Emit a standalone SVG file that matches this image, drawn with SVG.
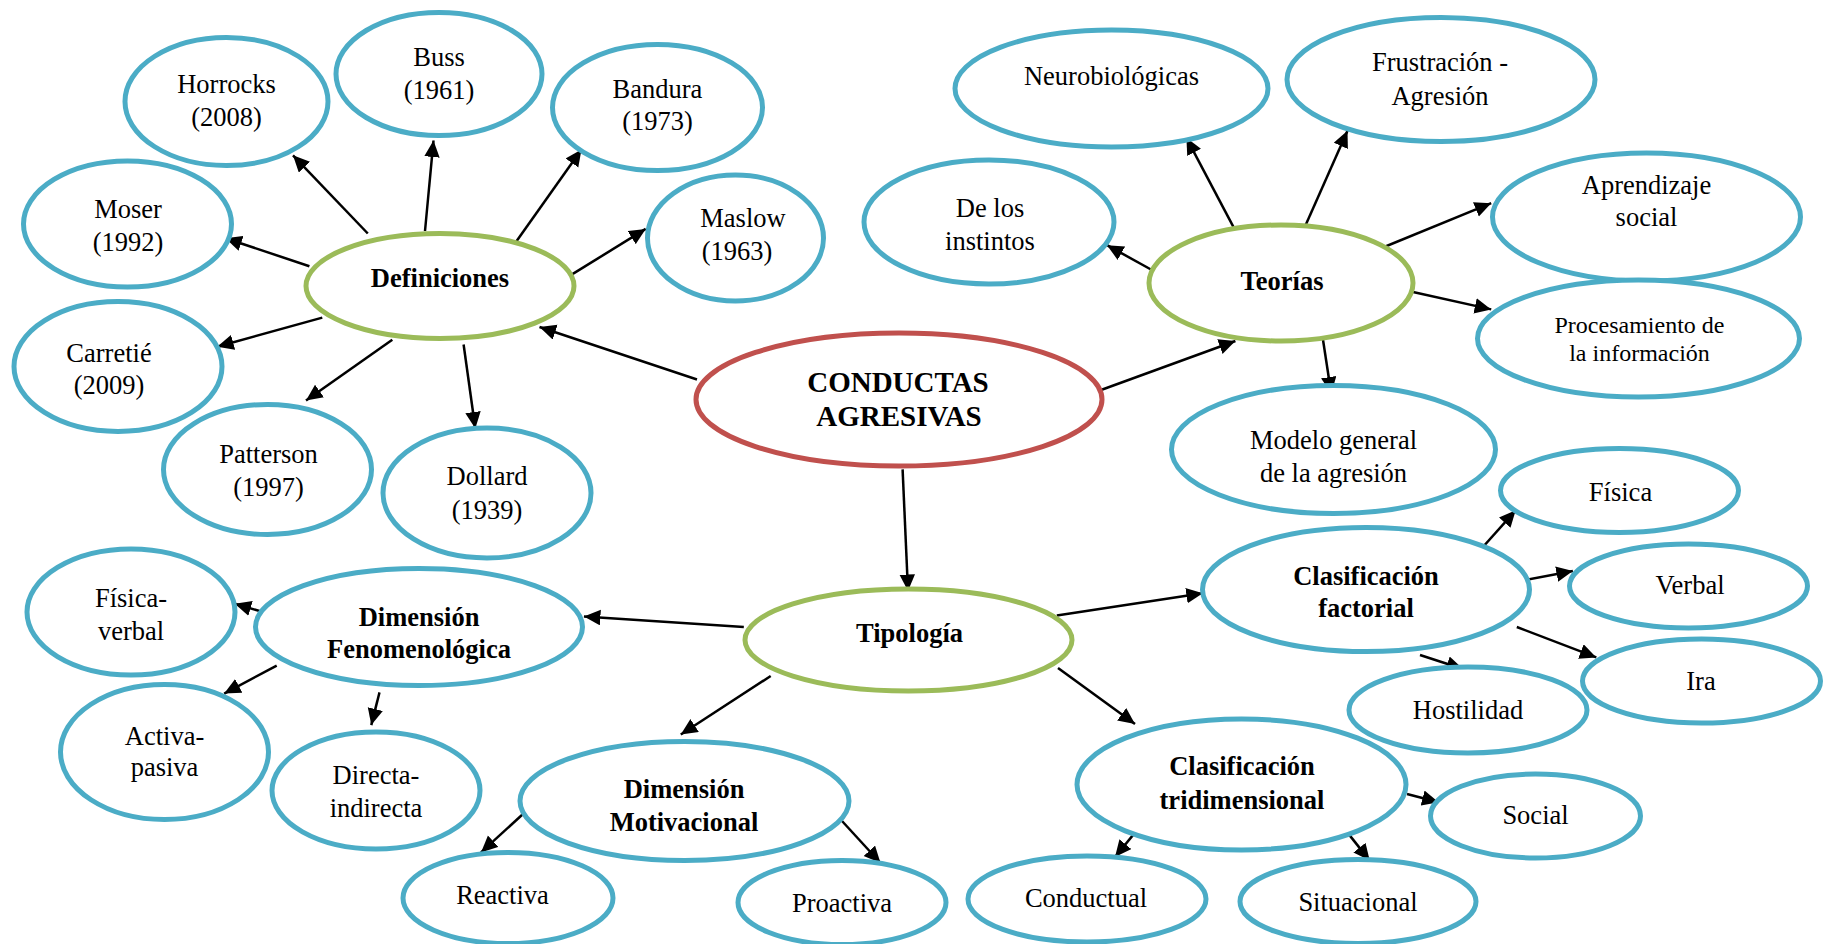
<svg xmlns="http://www.w3.org/2000/svg" width="1831" height="944" viewBox="0 0 1831 944" font-family="'Liberation Serif', 'DejaVu Serif', serif">
  <style>
    .blue{fill:#fff;stroke:#4BACC6;stroke-width:5}
    .green{fill:#fff;stroke:#9BBB59;stroke-width:5}
    .red{fill:#fff;stroke:#C0504D;stroke-width:5}
    text{font-family:'Liberation Serif','DejaVu Serif',serif;font-size:26.5px;fill:#000;text-anchor:middle}
    .b{font-weight:bold}
    .big{font-size:29px}
    .sm{font-size:24px}
    .edge{stroke:#000;stroke-width:2.5;fill:none;marker-end:url(#arrow)}
  </style>
  <defs>
    <marker id="arrow" markerUnits="userSpaceOnUse" markerWidth="18" markerHeight="16" refX="16.5" refY="7.75" orient="auto">
      <path d="M0,0 L16.5,7.75 L0,15.5 z" fill="#000"/>
    </marker>
  </defs>
  <rect width="1831" height="944" fill="#fff"/>

  <!-- connectors -->
  <g id="connectors">
    <line class="edge" x1="697" y1="379.5" x2="539.5" y2="327"/>
    <line class="edge" x1="1101" y1="390" x2="1235.4" y2="341"/>
    <line class="edge" x1="902.6" y1="469.4" x2="908" y2="591"/>

    <line class="edge" x1="367.8" y1="233.5" x2="293" y2="155.3"/>
    <line class="edge" x1="425" y1="231" x2="433.5" y2="140.5"/>
    <line class="edge" x1="513.8" y1="245" x2="581.5" y2="149.5"/>
    <line class="edge" x1="572" y1="274.4" x2="645.7" y2="228.9"/>
    <line class="edge" x1="309.4" y1="266.2" x2="225.4" y2="238.2"/>
    <line class="edge" x1="322.3" y1="317.6" x2="217.2" y2="346.8"/>
    <line class="edge" x1="392.3" y1="339.8" x2="306" y2="400.5"/>
    <line class="edge" x1="463.6" y1="344.5" x2="475.3" y2="428.5"/>

    <line class="edge" x1="1240" y1="239.4" x2="1186.4" y2="137.8"/>
    <line class="edge" x1="1300.8" y1="235.9" x2="1347.5" y2="130.8"/>
    <line class="edge" x1="1153.7" y1="271" x2="1107" y2="245.2"/>
    <line class="edge" x1="1374.4" y1="251" x2="1491.2" y2="203.2"/>
    <line class="edge" x1="1413" y1="292" x2="1491.2" y2="309.4"/>
    <line class="edge" x1="1323" y1="339.8" x2="1331.2" y2="393.5"/>

    <line class="edge" x1="743.8" y1="627" x2="583.9" y2="616.5"/>
    <line class="edge" x1="770.7" y1="676" x2="680.8" y2="734.5"/>
    <line class="edge" x1="1056.8" y1="615.4" x2="1202.8" y2="593.2"/>
    <line class="edge" x1="1058" y1="668" x2="1135" y2="724"/>

    <line class="edge" x1="1477.1" y1="553.5" x2="1515.7" y2="510.3"/>
    <line class="edge" x1="1523.8" y1="580.3" x2="1572.9" y2="571"/>
    <line class="edge" x1="1516.8" y1="627" x2="1596.3" y2="657.4"/>
    <line class="edge" x1="1420" y1="655" x2="1463" y2="669"/>

    <line class="edge" x1="1407" y1="794" x2="1438.6" y2="802.2"/>
    <line class="edge" x1="1135" y1="832.6" x2="1115" y2="857"/>
    <line class="edge" x1="1347.5" y1="832.6" x2="1369.7" y2="860.6"/>

    <line class="edge" x1="262.7" y1="611.9" x2="234.7" y2="603.7"/>
    <line class="edge" x1="276.7" y1="665.6" x2="224.2" y2="693.6"/>
    <line class="edge" x1="379.5" y1="692.4" x2="371.3" y2="725.1"/>

    <line class="edge" x1="523" y1="814" x2="481" y2="852.4"/>
    <line class="edge" x1="842" y1="821" x2="880.5" y2="863"/>
  </g>

  <!-- root -->
  <g id="n-conductas">
    <ellipse class="red" cx="899" cy="399.5" rx="203" ry="66.5"/>
    <text class="b big" x="898" y="392">CONDUCTAS</text>
    <text class="b big" x="899" y="426">AGRESIVAS</text>
  </g>

  <!-- Definiciones branch -->
  <g id="n-definiciones">
    <ellipse class="green" cx="440" cy="286" rx="134" ry="52.5"/>
    <text class="b" x="440" y="287">Definiciones</text>
  </g>
  <g id="n-horrocks">
    <ellipse class="blue" cx="226.5" cy="101.5" rx="101.5" ry="64"/>
    <text x="226.5" y="93">Horrocks</text>
    <text x="226.5" y="126">(2008)</text>
  </g>
  <g id="n-buss">
    <ellipse class="blue" cx="439" cy="74" rx="103" ry="61.5"/>
    <text x="439" y="66">Buss</text>
    <text x="439" y="99">(1961)</text>
  </g>
  <g id="n-bandura">
    <ellipse class="blue" cx="657.5" cy="107.5" rx="105" ry="63"/>
    <text x="657.5" y="97.7">Bandura</text>
    <text x="657.5" y="130.4">(1973)</text>
  </g>
  <g id="n-maslow">
    <ellipse class="blue" cx="735.5" cy="238" rx="88" ry="63"/>
    <text x="743" y="227.4">Maslow</text>
    <text x="737" y="260">(1963)</text>
  </g>
  <g id="n-moser">
    <ellipse class="blue" cx="127.5" cy="224" rx="104" ry="63"/>
    <text x="128" y="218">Moser</text>
    <text x="128" y="250.7">(1992)</text>
  </g>
  <g id="n-carretie">
    <ellipse class="blue" cx="118" cy="366.5" rx="104" ry="65"/>
    <text x="109" y="361.6">Carretié</text>
    <text x="109" y="394.3">(2009)</text>
  </g>
  <g id="n-patterson">
    <ellipse class="blue" cx="267.5" cy="469.5" rx="104" ry="65"/>
    <text x="268.5" y="463">Patterson</text>
    <text x="268.5" y="496">(1997)</text>
  </g>
  <g id="n-dollard">
    <ellipse class="blue" cx="487" cy="493" rx="104" ry="65"/>
    <text x="487" y="485.4">Dollard</text>
    <text x="487" y="519.3">(1939)</text>
  </g>

  <!-- Teorías branch -->
  <g id="n-teorias">
    <ellipse class="green" cx="1281" cy="283" rx="132" ry="58"/>
    <text class="b" x="1282" y="290.4">Teorías</text>
  </g>
  <g id="n-neuro">
    <ellipse class="blue" cx="1111.5" cy="88.5" rx="156.5" ry="58.5"/>
    <text x="1111.5" y="84.5">Neurobiológicas</text>
  </g>
  <g id="n-frustracion">
    <ellipse class="blue" cx="1441" cy="79.5" rx="154" ry="62"/>
    <text x="1440" y="71">Frustración -</text>
    <text x="1440" y="104.8">Agresión</text>
  </g>
  <g id="n-instintos">
    <ellipse class="blue" cx="989" cy="222" rx="125" ry="62"/>
    <text x="990" y="216.8">De los</text>
    <text x="990" y="249.5">instintos</text>
  </g>
  <g id="n-aprendizaje">
    <ellipse class="blue" cx="1646.5" cy="217" rx="154" ry="64"/>
    <text x="1646.5" y="193.5">Aprendizaje</text>
    <text x="1646.5" y="226">social</text>
  </g>
  <g id="n-procesamiento">
    <ellipse class="blue" cx="1638.5" cy="338.5" rx="161" ry="58.5"/>
    <text class="sm" x="1639.5" y="332.6">Procesamiento de</text>
    <text class="sm" x="1639.5" y="360.6">la información</text>
  </g>
  <g id="n-modelo">
    <ellipse class="blue" cx="1333.5" cy="449.5" rx="162" ry="64"/>
    <text x="1333.5" y="449">Modelo general</text>
    <text x="1333.5" y="482">de la agresión</text>
  </g>

  <!-- Tipología branch -->
  <g id="n-tipologia">
    <ellipse class="green" cx="908.5" cy="640" rx="163.5" ry="51"/>
    <text class="b" x="909.5" y="642">Tipología</text>
  </g>
  <g id="n-fenomenologica">
    <ellipse class="blue" cx="419" cy="627" rx="163.5" ry="58.5"/>
    <text class="b" x="419" y="625.5">Dimensión</text>
    <text class="b" x="419" y="658.2">Fenomenológica</text>
  </g>
  <g id="n-fisica-verbal">
    <ellipse class="blue" cx="131" cy="612" rx="104" ry="63"/>
    <text x="131" y="606.9">Física-</text>
    <text x="131" y="639.6">verbal</text>
  </g>
  <g id="n-activa-pasiva">
    <ellipse class="blue" cx="164.5" cy="752" rx="104" ry="67.5"/>
    <text x="164.5" y="744.6">Activa-</text>
    <text x="164.5" y="776.2">pasiva</text>
  </g>
  <g id="n-directa-indirecta">
    <ellipse class="blue" cx="376" cy="790.5" rx="104" ry="58.5"/>
    <text x="376" y="784.4">Directa-</text>
    <text x="376" y="817">indirecta</text>
  </g>
  <g id="n-motivacional">
    <ellipse class="blue" cx="684.5" cy="801" rx="164.5" ry="59.5"/>
    <text class="b" x="684" y="798.4">Dimensión</text>
    <text class="b" x="684" y="831">Motivacional</text>
  </g>
  <g id="n-reactiva">
    <ellipse class="blue" cx="508" cy="898" rx="105" ry="45.5"/>
    <text x="502.5" y="903.5">Reactiva</text>
  </g>
  <g id="n-proactiva">
    <ellipse class="blue" cx="842" cy="902.5" rx="104" ry="42"/>
    <text x="842" y="911.6">Proactiva</text>
  </g>
  <g id="n-factorial">
    <ellipse class="blue" cx="1366" cy="589.5" rx="163.5" ry="62"/>
    <text class="b" x="1366" y="584.7">Clasificación</text>
    <text class="b" x="1366" y="617.4">factorial</text>
  </g>
  <g id="n-fisica">
    <ellipse class="blue" cx="1619.5" cy="490.5" rx="119" ry="42"/>
    <text x="1620.5" y="500.6">Física</text>
  </g>
  <g id="n-verbal">
    <ellipse class="blue" cx="1688.5" cy="586" rx="119" ry="42"/>
    <text x="1690" y="594">Verbal</text>
  </g>
  <g id="n-ira">
    <ellipse class="blue" cx="1701.5" cy="681" rx="119" ry="42"/>
    <text x="1701" y="689.8">Ira</text>
  </g>
  <g id="n-hostilidad">
    <ellipse class="blue" cx="1468" cy="710" rx="119" ry="43"/>
    <text x="1468" y="719">Hostilidad</text>
  </g>
  <g id="n-tridimensional">
    <ellipse class="blue" cx="1241.5" cy="784.5" rx="164.5" ry="65.5"/>
    <text class="b" x="1242" y="775">Clasificación</text>
    <text class="b" x="1242" y="809">tridimensional</text>
  </g>
  <g id="n-social">
    <ellipse class="blue" cx="1535.5" cy="816" rx="105" ry="42"/>
    <text x="1535.5" y="824">Social</text>
  </g>
  <g id="n-conductual">
    <ellipse class="blue" cx="1087" cy="899" rx="119" ry="43"/>
    <text x="1086" y="907">Conductual</text>
  </g>
  <g id="n-situacional">
    <ellipse class="blue" cx="1358" cy="901.5" rx="118" ry="42"/>
    <text x="1358" y="910.5">Situacional</text>
  </g>
</svg>
